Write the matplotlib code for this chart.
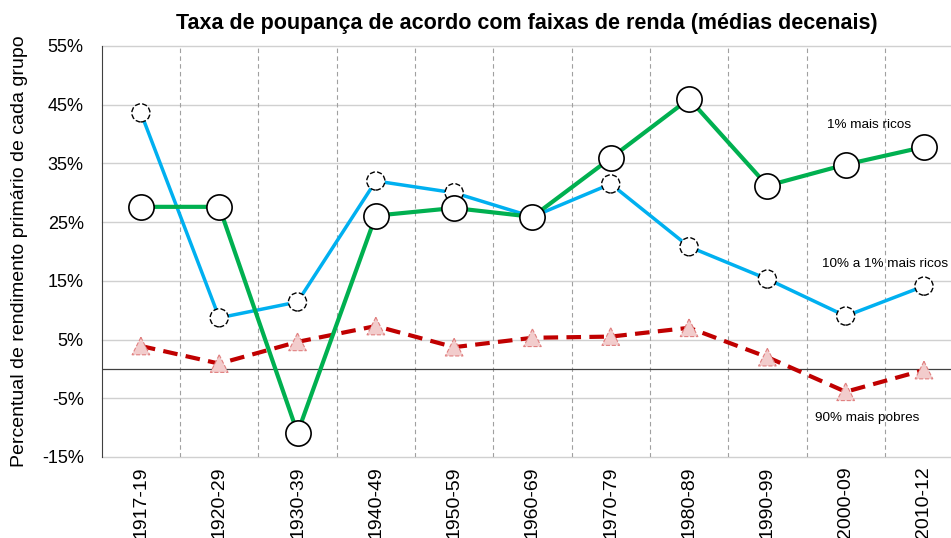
import matplotlib.pyplot as plt
import numpy as np

# decadal averages
periods = ["1917-19", "1920-29", "1930-39", "1940-49", "1950-59", "1960-69",
           "1970-79", "1980-89", "1990-99", "2000-09", "2010-12"]
top1 = [27.6, 27.6, -10.9, 26.1, 27.4, 25.9, 35.9, 46.0, 31.2, 34.8, 37.8]
top10_1 = [43.6, 8.7, 11.4, 32.0, 30.0, 25.9, 31.5, 20.8, 15.3, 9.0, 14.1]
bottom90 = [3.9, 0.9, 4.6, 7.3, 3.7, 5.3, 5.5, 7.0, 2.0, -3.9, -0.2]
yticks = [-15, -5, 5, 15, 25, 35, 45, 55]

plt.rcParams['font.family'] = ['Liberation Sans', 'DejaVu Sans']

x = np.arange(len(periods))

fig = plt.figure(figsize=(9.51, 5.38), dpi=100)
ax = fig.add_axes([0.107, 0.1506, 0.893, 0.764])

# grid: solid horizontal, dashed vertical between categories
for y in yticks:
    ax.axhline(y, color="#d0d0d0", lw=1.0, zorder=0, clip_on=False)
for b in np.arange(0.5, len(periods) - 0.5, 1):
    ax.axvline(b, color="#a0a0a0", lw=0.8, ls=(0, (4, 3)), zorder=0)
ax.axhline(0, color="#404040", lw=0.9, zorder=1)

# lines
ax.plot(x, bottom90, color="#c00000", lw=3, ls=(0, (3.5, 2)), zorder=2)
ax.plot(x, top10_1, color="#00b0f0", lw=2.5, zorder=3)
ax.plot(x, top1, color="#00b050", lw=3, zorder=4)

# markers
ax.scatter(x, bottom90, marker="^", s=160, facecolor="#f2cccc",
           edgecolor="#e08080", linewidth=0.8, linestyle="--", zorder=5)
ax.scatter(x, top10_1, marker="o", s=170, facecolor="white",
           edgecolor="black", linewidth=1.0, linestyle="--", zorder=6)
ax.scatter(x, top1, marker="o", s=330, facecolor="white",
           edgecolor="black", linewidth=1.2, zorder=7)

# series labels
ax.text(9.3, 41.5, "1% mais ricos", ha="center", va="center", fontsize=9.7)
ax.text(9.5, 17.8, "10% a 1% mais ricos", ha="center", va="center", fontsize=9.7)
ax.text(9.28, -8.4, "90% mais pobres", ha="center", va="center", fontsize=9.7)

ax.set_xlim(-0.5, 10.345)
ax.set_ylim(-15, 55)
ax.set_yticks(yticks)
ax.set_yticklabels([f"{v}%" for v in yticks], fontsize=13)
ax.set_xticks(x)
ax.set_xticklabels(periods, rotation=90, fontsize=14)
ax.tick_params(length=0)
ax.tick_params(axis="x", pad=7)
ax.tick_params(axis="y", pad=13)

for side in ["top", "right", "bottom"]:
    ax.spines[side].set_visible(False)
ax.spines["left"].set_color("#404040")

ax.set_ylabel("Percentual de rendimento primário de cada grupo", fontsize=14, labelpad=10)
ax.set_title("Taxa de poupança de acordo com faixas de renda (médias decenais)",
             fontsize=15.5, fontweight="bold", pad=12)

fig.savefig("out.png", dpi=100)
